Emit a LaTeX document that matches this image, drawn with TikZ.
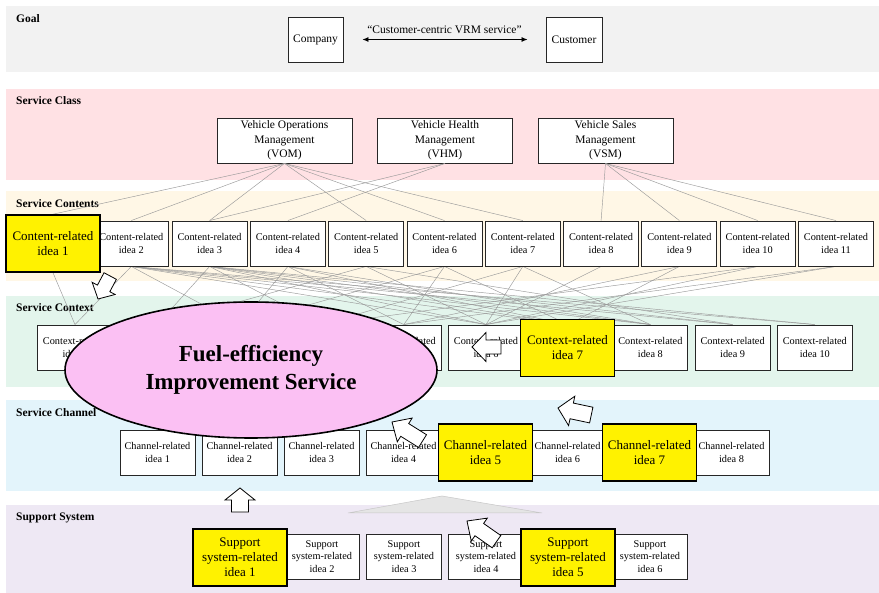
\documentclass[tikz,border=0pt]{standalone}
\usepackage{fontspec}
\setmainfont{Liberation Serif}
\usetikzlibrary{shapes.geometric,arrows.meta}
\definecolor{goalbg}{HTML}{F2F2F2}
\definecolor{classbg}{HTML}{FFE1E4}
\definecolor{contbg}{HTML}{FFF7E6}
\definecolor{ctxbg}{HTML}{E3F5EC}
\definecolor{chanbg}{HTML}{E3F4FB}
\definecolor{suppbg}{HTML}{EEE8F4}
\definecolor{fuelpink}{HTML}{FBC0F3}
\definecolor{linkgray}{HTML}{9A9A9A}
\newcommand\fatarrow[7]{%
  \draw[blockarrow, shift={(#1,#2)}, rotate=#3]
    (0,0) -- (-#5,#6/2) -- (-#5,#7/2) -- (-#4,#7/2) -- (-#4,-#7/2)
    -- (-#5,-#7/2) -- (-#5,-#6/2) -- cycle;}
\begin{document}
\begin{tikzpicture}[x=1pt,y=-1pt,
  bandlabel/.style={anchor=base west, inner sep=0pt, font=\bfseries\fontsize{11.5}{13}\selectfont},
  box/.style={draw=black!85, line width=0.9pt, fill=white, minimum width=75pt,
    minimum height=45pt, inner sep=0pt, align=center, font=\fontsize{10.3}{12.5}\selectfont},
  ybox/.style={box, draw=black, fill=yellow, line width=1.6pt, minimum width=94pt,
    minimum height=57pt, font=\fontsize{13}{15}\selectfont},
  classbox/.style={box, minimum width=135pt, minimum height=45pt, font=\fontsize{11.5}{14.3}\selectfont},
  goalbox/.style={box, minimum width=55pt, minimum height=45pt, font=\fontsize{11.5}{14}\selectfont},
  link/.style={draw=linkgray, line width=0.45pt},
  blockarrow/.style={draw=black, fill=white, line width=0.8pt, line join=miter},
]
\useasboundingbox (0,0) rectangle (879,593);
\fill[white] (0,0) rectangle (879,593);
% bands
\fill[goalbg] (6,6) rectangle (879,72);
\fill[classbg] (6,89) rectangle (879,180);
\fill[contbg] (6,191) rectangle (879,281);
\fill[ctxbg] (6,296) rectangle (879,387);
\fill[chanbg] (6,400) rectangle (879,491);
\fill[suppbg] (6,505) rectangle (879,593);
\node[bandlabel] at (16,23) {Goal};
\node[bandlabel] at (16,105) {Service Class};
\node[bandlabel] at (16,208) {Service Contents};
\node[bandlabel] at (16,312) {Service Context};
\node[bandlabel] at (16,417) {Service Channel};
\node[bandlabel] at (16,521) {Support System};

% faint shape in support band
\filldraw[fill=black!10, draw=black!22, line width=0.5pt] (348,513) -- (442,496) -- (542,513) -- cycle;

% goal
\node[goalbox] (company) at (315.5,39.5) {Company};
\node[goalbox, minimum width=56pt] (customer) at (574,39.5) {Customer};
\draw[{Latex[length=6pt,width=5pt]}-{Latex[length=6pt,width=5pt]}, line width=0.8pt, shorten <=19pt, shorten >=18pt]
  (company) -- (customer) node[midway, above, inner sep=5pt, font=\fontsize{11.5}{13}\selectfont] {``Customer-centric VRM service''};

% service class
\node[classbox] (vom) at (284.5,140.5) {Vehicle Operations\\Management\\(VOM)};
\node[classbox] (vhm) at (445,140.5) {Vehicle Health\\Management\\(VHM)};
\node[classbox] (vsm) at (605.5,140.5) {Vehicle Sales\\Management\\(VSM)};

% coordinates of boxes
\foreach \i in {1,...,11} {\coordinate (cc\i) at ({53+78.3*(\i-1)},243.5);}
\foreach \i in {1,...,10} {\coordinate (xc\i) at ({75+82.2*(\i-1)},347.5);}

% node shells so that links can refer to them
\foreach \i in {2,...,11} {\node[box] (c\i) at (cc\i) {};}
\node[ybox] (c1) at (cc1) {};
\foreach \i in {1,...,10} {\node[box] (x\i) at (xc\i) {};}

% links class -> content
\foreach \a/\b in {vom/1,vom/2,vom/3,vom/5,vom/6,vom/7,vhm/3,vhm/4,vsm/8,vsm/9,vsm/10,vsm/11}
  {\draw[link] (\a.south) -- (c\b.north);}
% links content -> context
\foreach \a/\b in {1/1, 2/1,2/3,2/6,2/7,2/8,2/9,2/10, 3/2,3/4,3/6,3/7,3/8,3/9,3/10,
  4/3,4/5,4/7,4/8, 5/2,5/6,5/9, 6/3,6/5,6/7, 7/4,7/6,7/8, 8/6, 9/5,9/7, 10/4,10/6, 11/5,11/6}
  {\draw[link] (c\a.south) -- (x\b.north);}

% boxes over links
\foreach \i in {2,...,11} {\node[box] at (cc\i) {Content-related\\idea \i};}
\node[ybox] at (cc1) {Content-related\\idea 1};
\foreach \i in {1,5,6,8,9,10} {\node[box] at (xc\i) {Context-related\\idea \i};}
\foreach \i in {2,3,4} {\node[box] at (xc\i) {};}

% channel
\foreach \i in {1,2,3,4,6,8} {\node[box] (h\i) at ({157.5+82*(\i-1)},452.5) {Channel-related\\idea \i};}
\node[ybox] (h5) at (485.5,452.5) {Channel-related\\idea 5};
\node[ybox] (h7) at (649.5,452.5) {Channel-related\\idea 7};

% support
\foreach \i in {2,3,4,6} {\node[box] (s\i) at ({240+82*(\i-1)},556.5) {Support\\system-related\\idea \i};}
\node[ybox] (s1) at (240,557.5) {Support\\system-related\\idea 1};
\node[ybox] (s5) at (568,557.5) {Support\\system-related\\idea 5};

% ellipse
\node[draw=black, line width=1.6pt, fill=fuelpink, ellipse, minimum width=372pt, minimum height=136pt,
  inner sep=0pt, font=\bfseries\fontsize{23}{28}\selectfont] (fuel) at (251,370)
  {\raisebox{-3pt}{\begin{tabular}{@{}c@{}}Fuel-efficiency\\Improvement Service\end{tabular}}};
\node[ybox] at (567.5,348) {Context-related\\idea 7};

% block arrows
\fatarrow{98}{299}{-118}{26}{12}{26}{14}
\fatarrow{472}{347}{180}{29}{14}{29}{14}
\fatarrow{392}{422}{148}{36}{15}{28}{15}
\fatarrow{558}{408}{168}{34}{14}{30}{16}
\fatarrow{240}{488}{90}{24}{12}{30}{17}
\fatarrow{467}{521}{145}{36}{15}{28}{15}
\end{tikzpicture}
\end{document}
